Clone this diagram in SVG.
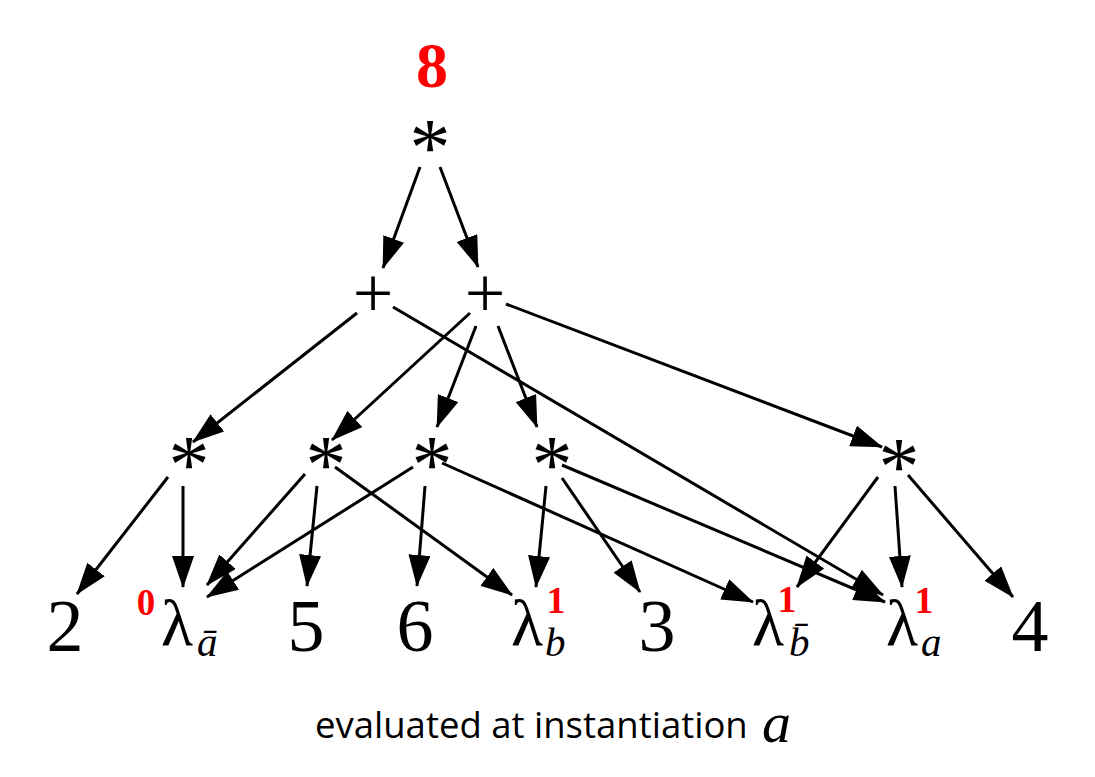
<svg xmlns="http://www.w3.org/2000/svg" width="1095" height="777" viewBox="0 0 1095 777">
<defs>
<marker id="ah" markerUnits="userSpaceOnUse" markerWidth="32" markerHeight="22" refX="31" refY="11" orient="auto">
<path d="M0,0 L32,11 L0,22 z" fill="#000"/>
</marker>
<style>
.e{stroke:#000;stroke-width:3;fill:none;marker-end:url(#ah)}
.op{font-family:"Liberation Serif",serif;fill:#000;text-anchor:middle}
.ast{font-size:82px}
.pl{font-size:72px}
.num{font-family:"Liberation Serif",serif;font-size:74px;fill:#000;text-anchor:middle}
.lam{font-family:"Liberation Serif",serif;font-size:66px;fill:#000}
.sub{font-family:"Liberation Serif",serif;font-style:italic;font-size:41px;fill:#000}
.red{font-family:"Liberation Serif",serif;font-weight:bold;fill:#ff0000;text-anchor:middle}
</style>
</defs>
<rect width="1095" height="777" fill="#fff"/>
<g id="connectors">
<line class="e" x1="420" y1="167" x2="383" y2="268"/>
<line class="e" x1="440" y1="167" x2="478" y2="267"/>
<line class="e" x1="357" y1="313" x2="193" y2="442"/>
<line class="e" x1="393" y1="307" x2="883" y2="595"/>
<line class="e" x1="470" y1="313" x2="332" y2="440"/>
<line class="e" x1="476" y1="326" x2="437" y2="427"/>
<line class="e" x1="498" y1="326" x2="537" y2="427"/>
<line class="e" x1="506" y1="304" x2="882" y2="447"/>
<line class="e" x1="168" y1="477" x2="77" y2="594"/>
<line class="e" x1="183" y1="486" x2="183" y2="587"/>
<line class="e" x1="305" y1="474" x2="207" y2="585"/>
<line class="e" x1="317" y1="486" x2="307" y2="586"/>
<line class="e" x1="335" y1="467" x2="512" y2="595"/>
<line class="e" x1="413" y1="467" x2="207" y2="597"/>
<line class="e" x1="425" y1="486" x2="417" y2="586"/>
<line class="e" x1="442" y1="463" x2="753" y2="602"/>
<line class="e" x1="546" y1="486" x2="536" y2="587"/>
<line class="e" x1="562" y1="478" x2="640" y2="592"/>
<line class="e" x1="562" y1="465" x2="885" y2="602"/>
<line class="e" x1="878" y1="477" x2="797" y2="587"/>
<line class="e" x1="895" y1="486" x2="902" y2="587"/>
<line class="e" x1="908" y1="475" x2="1013" y2="597"/>
</g>
<g id="value"><text class="red" x="432" y="87" font-size="64">8</text></g>
<g id="root"><text class="op ast" x="430" y="175">*</text></g>
<g id="plus1"><text class="op pl" x="373" y="317">+</text></g>
<g id="plus2"><text class="op pl" x="485" y="317">+</text></g>
<g id="m1"><text class="op ast" x="189" y="492">*</text></g>
<g id="m2"><text class="op ast" x="326" y="492">*</text></g>
<g id="m3"><text class="op ast" x="432" y="492">*</text></g>
<g id="m4"><text class="op ast" x="552" y="492">*</text></g>
<g id="m5"><text class="op ast" x="899" y="494">*</text></g>
<g id="n2"><text class="num" x="65" y="651">2</text></g>
<g id="lnota"><text class="red" x="146" y="615" font-size="37">0</text><text class="lam" x="161" y="645">λ</text><text class="sub" x="197" y="656">ā</text></g>
<g id="n5"><text class="num" x="306" y="651">5</text></g>
<g id="n6"><text class="num" x="415" y="651">6</text></g>
<g id="lb"><text class="red" x="556" y="613" font-size="38">1</text><text class="lam" x="511" y="645">λ</text><text class="sub" x="545" y="656">b</text></g>
<g id="n3"><text class="num" x="657" y="651">3</text></g>
<g id="lnotb"><text class="red" x="787" y="612" font-size="38">1</text><text class="lam" x="752" y="645">λ</text><text class="sub" x="789" y="656">b̄</text></g>
<g id="la"><text class="red" x="924" y="613" font-size="38">1</text><text class="lam" x="886" y="645">λ</text><text class="sub" x="921" y="656">a</text></g>
<g id="n4"><text class="num" x="1030" y="651">4</text></g>
<g id="caption"><text x="315" y="738" font-family="'Open Sans',sans-serif" font-size="36.5" fill="#000">evaluated at instantiation</text><text x="762" y="742" font-family="'Liberation Serif',serif" font-style="italic" font-size="58" fill="#000">a</text></g>
</svg>
